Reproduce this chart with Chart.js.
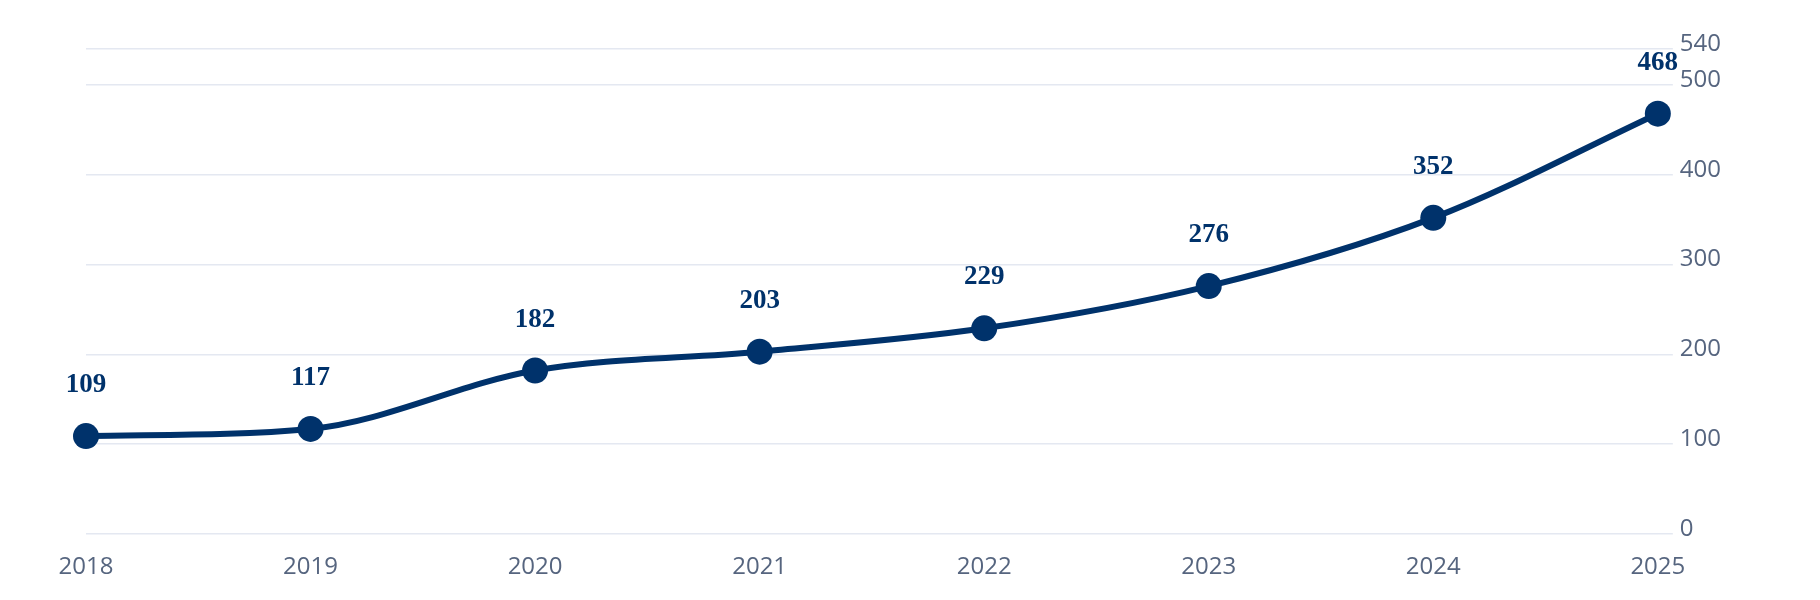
<!DOCTYPE html>
<html>
<head>
<meta charset="utf-8">
<script src="https://cdn.jsdelivr.net/npm/chart.js@4.4.0/dist/chart.umd.min.js"></script>
<style>
  html, body { margin: 0; padding: 0; background: #ffffff; }
  #wrap { width: 1820px; height: 600px; }
</style>
</head>
<body>
<div id="wrap"><canvas id="lineChart"></canvas></div>
<script>
const years = ['2018', '2019', '2020', '2021', '2022', '2023', '2024', '2025'];
const values = [109, 117, 182, 203, 229, 276, 352, 468];
const yTicks = [0, 100, 200, 300, 400, 500, 540];

const navy = '#00326b';
const gridColor = '#e4e8f1';
const tickText = '#56657f';

// draws the value above each point
const valueLabels = {
    id: 'valueLabels',
    afterDatasetsDraw(chart) {
        const ctx = chart.ctx;
        const meta = chart.getDatasetMeta(0);
        ctx.save();
        ctx.font = 'bold 27px "Liberation Serif", "DejaVu Serif", serif';
        ctx.fillStyle = navy;
        ctx.textAlign = 'center';
        ctx.textBaseline = 'middle';
        meta.data.forEach((pt, i) => {
            ctx.fillText(String(values[i]), pt.x, pt.y - 51);
        });
        ctx.restore();
    }
};

const ctx = document.getElementById('lineChart').getContext('2d');
new Chart(ctx, {
    type: 'line',
    data: {
        labels: years,
        datasets: [{
            data: values,
            borderColor: navy,
            backgroundColor: navy,
            borderWidth: 6,
            pointRadius: 13,
            pointHoverRadius: 13,
            pointBackgroundColor: navy,
            pointBorderWidth: 0,
            cubicInterpolationMode: 'monotone',
            clip: false
        }]
    },
    options: {
        responsive: true,
        maintainAspectRatio: false,
        animation: false,
        layout: {
            autoPadding: false,
            padding: { left: 86, right: 92, top: 49, bottom: 0 }
        },
        plugins: {
            legend: { display: false },
            tooltip: { enabled: false }
        },
        scales: {
            x: {
                offset: false,
                grid: { display: false, drawTicks: false },
                border: { display: false },
                ticks: {
                    color: tickText,
                    padding: 21,
                    maxRotation: 0,
                    font: { family: '"Open Sans", "Noto Sans", sans-serif', size: 24, lineHeight: 1 }
                }
            },
            y: {
                position: 'right',
                min: 0,
                max: 540,
                afterBuildTicks: axis => {
                    axis.ticks = yTicks.map(v => ({ value: v }));
                },
                grid: {
                    color: gridColor,
                    lineWidth: 1.5,
                    drawTicks: true,
                    tickLength: 15,
                    tickColor: gridColor
                },
                border: { display: false },
                ticks: {
                    color: tickText,
                    padding: 7,
                    labelOffset: -5,
                    font: { family: '"Open Sans", "Noto Sans", sans-serif', size: 24 }
                }
            }
        }
    },
    plugins: [valueLabels]
});
</script>
</body>
</html>
